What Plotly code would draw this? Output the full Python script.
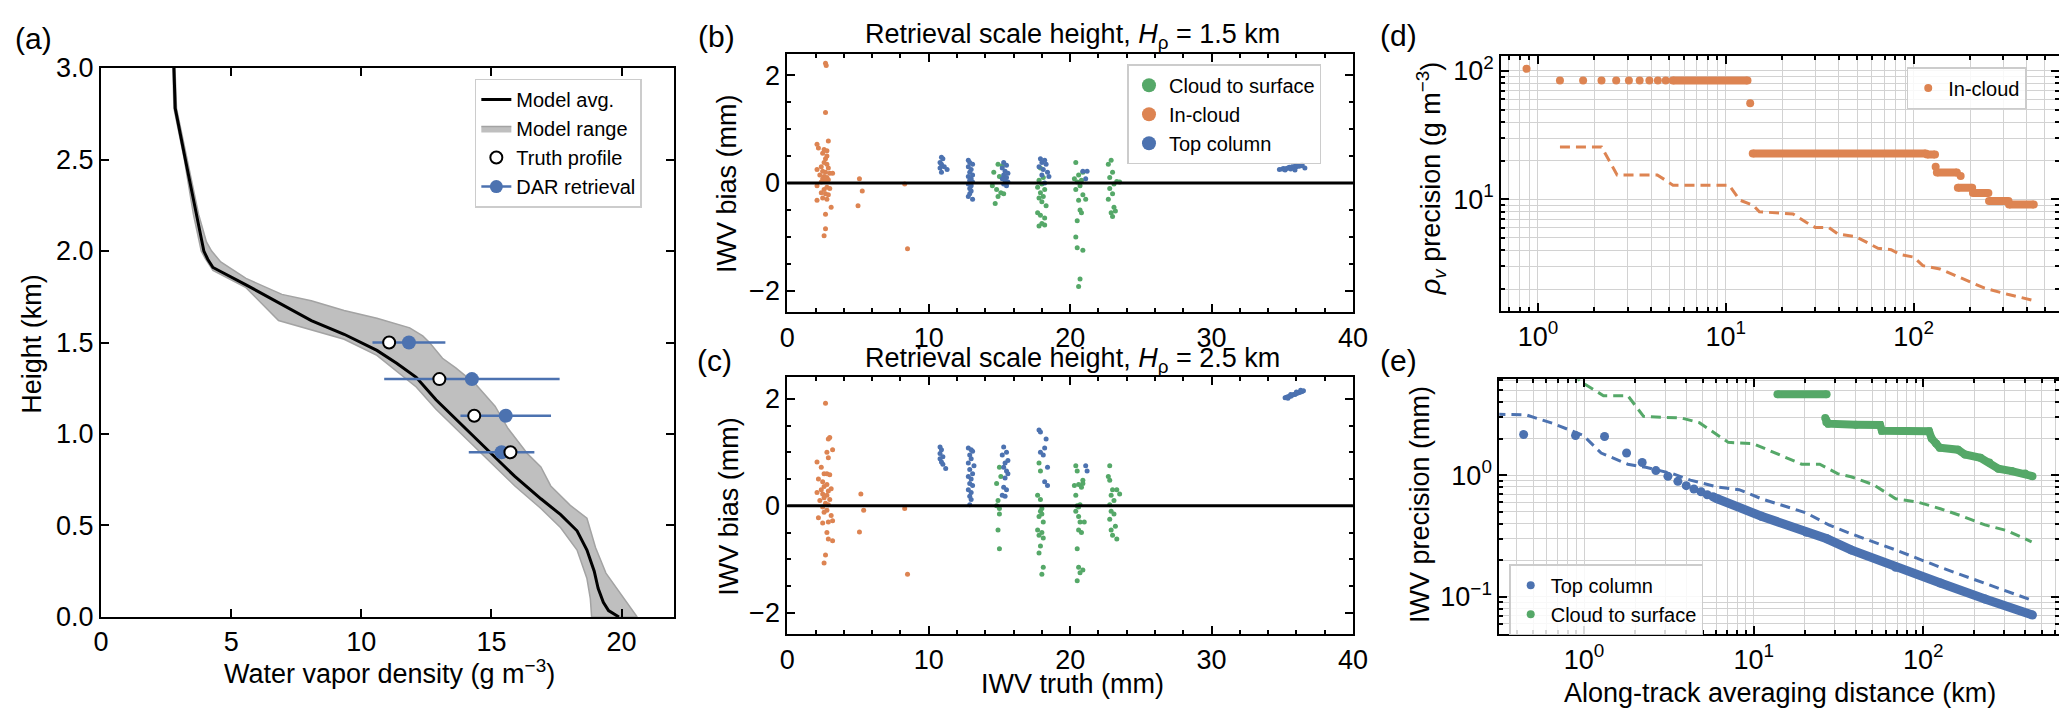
import plotly.graph_objects as go

W, H = 2067, 715
FONT = "Liberation Sans, Arial, sans-serif"
BLUE = "#4c72b0"
ORANGE = "#dd8452"
GREEN = "#55a868"
GRID = "#d2d2d2"

# ---------------- panel (a): water vapour profile ----------------
avg_height = [3.0, 2.78, 2.5, 2.2, 2.0, 1.955, 1.91, 1.815, 1.72, 1.62, 1.545, 1.457,
              1.387, 1.31, 1.187, 1.047, 0.907, 0.768, 0.646, 0.559, 0.471, 0.366,
              0.25, 0.157, 0.08, 0.035, 0.0]
avg_density = [2.8, 2.85, 3.24, 3.67, 3.95, 4.1, 4.3, 5.57, 6.82, 8.08, 9.34, 10.6,
               11.36, 12.11, 12.87, 13.87, 14.88, 15.9, 16.9, 17.66, 18.29, 18.67,
               18.95, 19.1, 19.3, 19.5, 19.9]

range_lo_height = [3.0, 2.78, 2.5, 2.2, 2.0, 1.96, 1.894, 1.8, 1.62, 1.57, 1.518, 1.43,
                   1.344, 1.257, 1.135, 0.995, 0.855, 0.716, 0.593, 0.488, 0.366, 0.21,
                   0.1, 0.0]
range_lo_density = [2.76, 2.8, 3.2, 3.55, 3.85, 4.0, 4.3, 5.57, 6.82, 8.08, 9.34, 10.6,
                    11.36, 12.11, 12.87, 13.87, 14.88, 15.9, 16.9, 17.66, 18.29, 18.67,
                    18.8, 18.85]
range_hi_height = [3.0, 2.78, 2.5, 2.2, 2.05, 2.0, 1.94, 1.85, 1.763, 1.728, 1.675, 1.632,
                   1.58, 1.536, 1.5, 1.414, 1.361, 1.274, 1.152, 1.03, 0.89, 0.82, 0.716,
                   0.61, 0.54, 0.38, 0.24, 0.157, 0.05, 0.0]
range_hi_density = [2.84, 2.9, 3.3, 3.75, 4.05, 4.25, 4.6, 5.57, 6.95, 8.08, 9.34, 10.6,
                    11.86, 12.36, 12.62, 13.12, 13.63, 14.38, 15.14, 15.64, 16.4, 16.9,
                    17.28, 18.03, 18.67, 19.0, 19.4, 19.8, 20.35, 20.6]

truth_height = [1.5, 1.3, 1.1, 0.9]
truth_density = [11.07, 13.0, 14.34, 15.73]
dar_height = [1.5, 1.3, 1.1, 0.9]
dar_density = [11.83, 14.25, 15.55, 15.39]
dar_error = [1.4, 3.37, 1.74, 1.26]

# ---------------- panel (b): H_rho = 1.5 km, (IWV truth, IWV bias) ----------------
b_cloud_surface = [
    (14.9, 0.35), (15.2, 0.32), (14.6, 0.2), (15.0, 0.12), (14.5, -0.05), (14.8, -0.12),
    (15.1, -0.18), (14.9, -0.25), (15.3, -0.2), (14.7, -0.38),
    (17.9, 0.28), (18.1, 0.1), (17.8, 0.05), (18.0, -0.02), (17.7, -0.08), (18.2, -0.12),
    (17.9, -0.18), (18.1, -0.25), (17.8, -0.28), (18.0, -0.35), (18.3, -0.42), (17.7, -0.55),
    (17.9, -0.6), (18.2, -0.65), (18.0, -0.75), (17.8, -0.8), (18.2, -0.78),
    (20.4, 0.38), (20.9, 0.2), (20.6, 0.15), (20.3, 0.08), (20.8, 0.05), (20.5, 0.02),
    (20.7, -0.05), (20.4, -0.12), (20.9, -0.22), (20.6, -0.32), (21.1, -0.3), (20.7, -0.5),
    (20.8, -0.55), (20.5, -0.7), (20.4, -1.0), (20.5, -1.2), (20.9, -1.25), (20.7, -1.78),
    (20.6, -1.92),
    (22.9, 0.42), (22.7, 0.35), (23.0, 0.2), (22.8, 0.1), (23.3, 0.03), (23.5, 0.02),
    (23.1, -0.02), (22.8, -0.1), (23.0, -0.2), (22.7, -0.3), (23.1, -0.45), (23.2, -0.52),
    (22.9, -0.55), (23.0, -0.62),
]
b_in_cloud = [
    (2.7, 2.22), (2.75, 2.18), (2.7, 1.31), (2.9, 0.78), (2.1, 0.72), (2.2, 0.65), (2.6, 0.62),
    (2.8, 0.6), (2.5, 0.55), (2.8, 0.5), (2.7, 0.45), (2.6, 0.38), (2.8, 0.35), (2.4, 0.3),
    (2.9, 0.28), (2.1, 0.25), (2.5, 0.22), (2.7, 0.2), (3.0, 0.18), (3.2, 0.18), (2.3, 0.15),
    (2.6, 0.12), (2.8, 0.1), (2.5, 0.08), (2.9, 0.06), (2.6, 0.05), (2.7, 0.03), (2.4, 0.02),
    (2.1, -0.05), (2.8, -0.08), (2.6, -0.12), (3.0, -0.1), (2.4, -0.18), (2.7, -0.2),
    (2.9, -0.22), (2.5, -0.28), (2.1, -0.32), (2.8, -0.3), (3.1, -0.45), (2.7, -0.58),
    (2.7, -0.85), (2.6, -0.98),
    (5.1, 0.08), (5.3, -0.15), (5.0, -0.42), (8.3, -0.02), (8.5, -1.22),
]
b_top_column = [
    (10.9, 0.48), (11.0, 0.45), (10.8, 0.38), (10.9, 0.35), (11.1, 0.3), (10.8, 0.28),
    (11.3, 0.25), (10.9, 0.2),
    (12.8, 0.42), (12.9, 0.38), (13.1, 0.35), (12.8, 0.3), (13.0, 0.25), (12.9, 0.2),
    (13.1, 0.15), (12.8, 0.12), (13.0, 0.08), (12.9, 0.05), (13.1, 0.02), (12.8, -0.02),
    (13.0, -0.05), (12.9, -0.1), (13.0, -0.15), (12.8, -0.25), (13.1, -0.3), (12.9, -0.2),
    (15.3, 0.38), (15.5, 0.33), (15.2, 0.28), (15.4, 0.22), (15.6, 0.18), (15.3, 0.15),
    (15.5, 0.1), (15.2, 0.08), (15.4, 0.05), (15.6, 0.02), (15.3, -0.02), (15.5, -0.05),
    (17.9, 0.45), (18.2, 0.42), (18.0, 0.38), (18.3, 0.35), (17.8, 0.3), (18.1, 0.25),
    (18.4, 0.2), (18.0, 0.15), (18.5, 0.12), (18.2, 0.0),
    (20.9, 0.22), (21.2, 0.22), (21.1, 0.08),
    (34.8, 0.25), (35.0, 0.26), (35.1, 0.27), (35.2, 0.24), (35.3, 0.27), (35.4, 0.28),
    (35.5, 0.29), (35.6, 0.28), (35.6, 0.26), (35.7, 0.30), (35.8, 0.29), (35.9, 0.31),
    (35.9, 0.24), (36.0, 0.30), (36.0, 0.33), (36.1, 0.32), (36.2, 0.31), (36.3, 0.33),
    (36.4, 0.32), (36.4, 0.34), (36.6, 0.28),
]

# ---------------- panel (c): H_rho = 2.5 km ----------------
c_cloud_surface = [
    (15.0, 0.72), (15.1, 0.55), (14.8, 0.42), (14.9, 0.1), (15.0, -0.05), (14.8, 0.0),
    (15.0, -0.15), (14.9, -0.45), (15.0, -0.8),
    (17.8, 0.8), (17.9, 0.65), (17.7, 0.2), (17.9, 0.12), (18.0, -0.05), (17.9, -0.1),
    (18.0, -0.15), (17.8, -0.2), (18.1, -0.3), (17.7, -0.45), (18.0, -0.5), (17.8, -0.55),
    (18.1, -0.6), (17.9, -0.75), (17.8, -0.88), (18.1, -1.15), (18.0, -1.28),
    (20.4, 0.75), (20.5, 0.65), (20.9, 0.48), (20.6, 0.4), (20.3, 0.38), (20.8, 0.35),
    (20.4, 0.2), (20.9, 0.42), (20.5, 0.0), (20.7, 0.02), (20.6, -0.02), (20.4, -0.1),
    (20.6, -0.2), (20.7, -0.3), (21.0, -0.3), (20.6, -0.45), (20.8, -0.5), (20.5, -0.8),
    (20.6, -1.15), (20.9, -1.2), (20.7, -1.25), (20.5, -1.4),
    (22.8, 0.75), (22.7, 0.55), (22.8, 0.48), (23.0, 0.3), (23.3, 0.3), (23.5, 0.22),
    (22.9, 0.2), (23.1, 0.1), (22.8, 0.02), (22.9, -0.1), (23.1, -0.15), (22.8, -0.25),
    (23.2, -0.38), (22.9, -0.45), (23.0, -0.55), (23.3, -0.62),
]
c_in_cloud = [
    (2.7, 1.92), (3.0, 1.28), (2.9, 1.25), (3.2, 1.05), (2.8, 1.0), (2.9, 0.9), (2.1, 0.82),
    (2.4, 0.72), (2.6, 0.6), (2.8, 0.6), (3.0, 0.58), (2.2, 0.5), (2.5, 0.45), (2.8, 0.4),
    (2.6, 0.36), (3.1, 0.32), (2.4, 0.3), (2.9, 0.28), (2.1, 0.25), (2.5, 0.22), (2.8, 0.2),
    (2.6, 0.15), (3.0, 0.12), (2.3, 0.1), (2.7, 0.05), (2.9, 0.02), (2.5, -0.02),
    (2.8, -0.08), (2.6, -0.12), (3.1, -0.18), (2.2, -0.22), (2.9, -0.3), (2.5, -0.32),
    (3.2, -0.28), (2.8, -0.5), (2.9, -0.62), (3.2, -0.65), (2.7, -0.92), (2.6, -1.07),
    (5.2, 0.22), (5.4, -0.08), (5.1, -0.49), (8.3, -0.05), (8.5, -1.28),
]
c_top_column = [
    (10.8, 1.1), (10.9, 1.05), (10.8, 0.98), (11.0, 0.92), (10.8, 0.88), (10.9, 0.82),
    (11.0, 0.78), (11.2, 0.7),
    (12.8, 1.08), (13.0, 1.05), (13.1, 1.02), (12.9, 0.95), (13.0, 0.88), (12.8, 0.8),
    (13.2, 0.75), (12.9, 0.68), (13.1, 0.6), (12.8, 0.55), (13.0, 0.5), (12.9, 0.42),
    (13.1, 0.38), (12.8, 0.3), (13.0, 0.25), (12.9, 0.18), (13.0, 0.12), (12.9, 0.02),
    (15.3, 1.1), (15.5, 1.0), (15.2, 0.95), (15.6, 0.85), (15.4, 0.8), (15.3, 0.72),
    (15.5, 0.65), (15.6, 0.6), (15.4, 0.52), (15.3, 0.35), (15.5, 0.3), (15.2, 0.2),
    (15.4, 0.18),
    (17.8, 1.42), (17.9, 1.38), (18.3, 1.25), (17.9, 1.0), (18.1, 0.95), (18.2, 1.08),
    (18.4, 0.72), (18.2, 0.45), (18.4, 0.38),
    (21.1, 0.75), (21.2, 0.65),
    (35.2, 2.02), (35.3, 2.03), (35.4, 2.04), (35.5, 2.05), (35.6, 2.05), (35.7, 2.07),
    (35.8, 2.08), (35.9, 2.08), (36.0, 2.10), (36.1, 2.11), (36.2, 2.12), (36.3, 2.13),
    (36.4, 2.14), (36.5, 2.15), (35.6, 2.08), (36.0, 2.13), (36.3, 2.16), (35.4, 2.01),
]

# ---------------- panel (d): rho_v precision vs averaging distance ----------------
d_dot_dist = [0.87, 1.31, 1.74, 2.18, 2.61, 3.05, 3.48, 3.92, 4.35, 4.79, 13.49, 131, 178]
d_dot_prec = [104, 84.2, 84.2, 84.2, 84.2, 84.2, 84.2, 84.2, 84.2, 84.2, 56, 17.9, 15.2]
d_run_start = [5.22, 13.92, 118, 133, 172, 207, 252, 322]
d_run_end = [13.05, 116, 130, 170, 205, 250, 320, 436]
d_run_prec = [84.2, 22.8, 22.3, 16.2, 12.3, 11.2, 9.7, 9.1]
d_model_dist = [1.31, 2.18, 2.64, 4.32, 5.24, 10.4, 11.9, 14.0, 15.1, 22.8, 26.9, 30.0,
                35.4, 39.5, 49.1, 64.6, 75.9, 85, 100, 112, 138, 182, 239, 316, 427]
d_model_prec = [25.6, 25.6, 15.5, 15.5, 12.9, 12.9, 9.84, 9.0, 8.0, 7.7, 6.6, 6.03,
                6.03, 5.37, 5.13, 4.16, 4.05, 3.71, 3.55, 3.04, 2.87, 2.42, 2.03, 1.82, 1.64]

# ---------------- panel (e): IWV precision vs averaging distance ----------------
e_top_dot_dist = [0.44, 0.89, 1.32, 1.78, 2.2, 2.65, 3.12, 3.57, 4.0, 4.44, 4.89, 5.32]
e_top_dot_prec = [2.16, 2.12, 2.08, 1.52, 1.27, 1.09, 0.98, 0.89, 0.82, 0.77, 0.73, 0.69]
e_top_run_dist = [5.75, 6.1, 11.1, 20.4, 27, 37.5, 68.7, 126, 231, 440]
e_top_run_prec = [0.665, 0.64, 0.46, 0.34, 0.30, 0.243, 0.175, 0.13, 0.096, 0.071]
e_top_model_dist = [0.3, 0.455, 0.65, 0.99, 1.26, 1.81, 2.31, 3.32, 4.23, 6.1, 8.2, 11.1,
                    20.4, 27.7, 37.5, 68.7, 126, 231, 435]
e_top_model_prec = [3.17, 3.13, 2.67, 2.12, 1.52, 1.23, 1.16, 1.03, 0.91, 0.80, 0.76, 0.64,
                    0.49, 0.39, 0.33, 0.243, 0.175, 0.13, 0.094]
e_cs_top_dist = [13.8, 26.9]
e_cs_top_prec = [4.63, 4.63]
e_cs_run_dist = [26.4, 26.8, 27.5, 40, 55.6, 57, 108, 112, 119, 125, 160, 176, 217, 245,
                 277, 332, 398, 440]
e_cs_run_prec = [2.95, 2.72, 2.65, 2.6, 2.58, 2.32, 2.3, 2.0, 1.82, 1.68, 1.62, 1.48, 1.39,
                 1.27, 1.13, 1.08, 1.03, 0.98]
e_cs_model_dist = [0.85, 0.99, 1.3, 1.81, 2.24, 3.75, 4.78, 7.08, 9.9, 14.2, 19.2, 24.5,
                   31.2, 37.5, 50.7, 68.7, 93, 126, 170, 231, 312, 435]
e_cs_model_prec = [6.8, 5.7, 4.5, 4.5, 3.04, 2.95, 2.7, 1.86, 1.82, 1.48, 1.23, 1.23, 1.03,
                   0.97, 0.836, 0.64, 0.60, 0.53, 0.46, 0.39, 0.35, 0.283]


def fx(p):
    return p / W


def fy(p):
    return 1 - p / H


def unzip(points):
    return [p[0] for p in points], [p[1] for p in points]


def runs(starts, ends, values):
    xs, ys = [], []
    for s, e, v in zip(starts, ends, values):
        xs += [s, e, None]
        ys += [v, v, None]
    return xs, ys


fig = go.Figure()

# (a)
fig.add_trace(go.Scatter(
    x=range_lo_density + range_hi_density[::-1], y=range_lo_height + range_hi_height[::-1],
    fill="toself", fillcolor="#bfbfbf", line=dict(color="#a3a3a3", width=1.5),
    mode="lines", name="Model range", legend="legend", legendrank=2, xaxis="x", yaxis="y"))
fig.add_trace(go.Scatter(
    x=avg_density, y=avg_height, mode="lines", line=dict(color="black", width=3),
    name="Model avg.", legend="legend", legendrank=1, xaxis="x", yaxis="y"))
fig.add_trace(go.Scatter(
    x=dar_density, y=dar_height, mode="markers",
    marker=dict(color=BLUE, size=14),
    error_x=dict(type="data", array=dar_error, color=BLUE, thickness=2.5, width=0),
    showlegend=False, xaxis="x", yaxis="y"))
fig.add_trace(go.Scatter(
    x=truth_density, y=truth_height, mode="markers",
    marker=dict(color="white", size=12, line=dict(color="black", width=2)),
    name="Truth profile", legend="legend", legendrank=3, xaxis="x", yaxis="y"))
fig.add_trace(go.Scatter(
    x=[None], y=[None], mode="lines+markers", marker=dict(color=BLUE, size=13),
    line=dict(color=BLUE, width=2.5), name="DAR retrieval", legend="legend", legendrank=4,
    xaxis="x", yaxis="y"))

# (b) and (c)
for n, (cs, ic, tc) in ((2, (b_cloud_surface, b_in_cloud, b_top_column)),
                        (3, (c_cloud_surface, c_in_cloud, c_top_column))):
    for pts, col in ((cs, GREEN), (ic, ORANGE), (tc, BLUE)):
        xs, ys = unzip(pts)
        fig.add_trace(go.Scatter(
            x=xs, y=ys, mode="markers", marker=dict(color=col, size=5),
            showlegend=False, xaxis=f"x{n}", yaxis=f"y{n}"))
for name, col in (("Cloud to surface", GREEN), ("In-cloud", ORANGE), ("Top column", BLUE)):
    fig.add_trace(go.Scatter(
        x=[None], y=[None], mode="markers", marker=dict(color=col, size=14), name=name,
        legend="legend2", xaxis="x2", yaxis="y2"))

# (d)
rx, ry = runs(d_run_start, d_run_end, d_run_prec)
fig.add_trace(go.Scatter(
    x=d_model_dist, y=d_model_prec, mode="lines",
    line=dict(color=ORANGE, width=3, dash="10px,6px"), showlegend=False,
    xaxis="x4", yaxis="y4"))
fig.add_trace(go.Scatter(
    x=rx, y=ry, mode="lines+markers", line=dict(color=ORANGE, width=8),
    marker=dict(color=ORANGE, size=8), showlegend=False, xaxis="x4", yaxis="y4"))
fig.add_trace(go.Scatter(
    x=d_dot_dist, y=d_dot_prec, mode="markers", marker=dict(color=ORANGE, size=8),
    showlegend=False, xaxis="x4", yaxis="y4"))
fig.add_trace(go.Scatter(
    x=[None], y=[None], mode="markers", marker=dict(color=ORANGE, size=8), name="In-cloud",
    legend="legend3", xaxis="x4", yaxis="y4"))

# (e)
fig.add_trace(go.Scatter(
    x=e_top_model_dist, y=e_top_model_prec, mode="lines",
    line=dict(color=BLUE, width=3, dash="10px,6px"), showlegend=False,
    xaxis="x5", yaxis="y5"))
fig.add_trace(go.Scatter(
    x=e_cs_model_dist, y=e_cs_model_prec, mode="lines",
    line=dict(color=GREEN, width=3, dash="10px,6px"), showlegend=False,
    xaxis="x5", yaxis="y5"))
fig.add_trace(go.Scatter(
    x=e_top_run_dist, y=e_top_run_prec, mode="lines+markers", line=dict(color=BLUE, width=9),
    marker=dict(color=BLUE, size=9), showlegend=False, xaxis="x5", yaxis="y5"))
fig.add_trace(go.Scatter(
    x=e_top_dot_dist, y=e_top_dot_prec, mode="markers", marker=dict(color=BLUE, size=9),
    showlegend=False, xaxis="x5", yaxis="y5"))
for xs, ys in ((e_cs_top_dist, e_cs_top_prec), (e_cs_run_dist, e_cs_run_prec)):
    fig.add_trace(go.Scatter(
        x=xs, y=ys, mode="lines+markers", line=dict(color=GREEN, width=8),
        marker=dict(color=GREEN, size=8), showlegend=False, xaxis="x5", yaxis="y5"))
for name, col in (("Top column", BLUE), ("Cloud to surface", GREEN)):
    fig.add_trace(go.Scatter(
        x=[None], y=[None], mode="markers", marker=dict(color=col, size=8), name=name,
        legend="legend4", xaxis="x5", yaxis="y5"))


def axis(domain, anchor, **kw):
    d = dict(domain=domain, anchor=anchor, showline=True, linecolor="black", linewidth=2,
             mirror="allticks", ticks="inside", ticklen=8, tickwidth=1.5, tickcolor="black",
             showgrid=False, zeroline=False, tickfont=dict(size=27, color="black"))
    d.update(kw)
    return d


def log_minor(decades, lo, hi):
    vals = [m * 10 ** k for k in decades for m in range(2, 10)]
    return [v for v in vals if lo <= v <= hi]


def log_axis(domain, anchor, rng, majors, labels, minors):
    return axis(domain, anchor, type="log", range=rng, tickvals=majors, ticktext=labels,
                showgrid=True, gridcolor=GRID, gridwidth=1.3,
                minor=dict(tickvals=minors, ticks="inside", ticklen=4, tickcolor="black",
                           showgrid=True, gridcolor=GRID, gridwidth=1.3))


sup = {1: "10<sup>0</sup>", 10: "10<sup>1</sup>", 100: "10<sup>2</sup>", 0.1: "10<sup>−1</sup>"}

xa = [fx(86), fx(665)]
ya = [fy(620), fy(47)]
xb = [fx(780), fx(1352)]
yb = [fy(302), fy(32)]
yc = [fy(638), fy(370)]
xd = [fx(1502), fx(2066)]
yd = [fy(301), fy(34)]
xe = [fx(1500), fx(2066)]
ye = [fy(638), fy(372)]

legend_style = dict(bgcolor="rgba(255,255,255,0.85)", bordercolor="#cccccc", borderwidth=1.5,
                    font=dict(size=20, color="black"), xanchor="left", yanchor="top",
                    tracegroupgap=0)

fig.update_layout(
    width=W, height=H, margin=dict(l=0, r=0, t=0, b=0), autosize=False,
    paper_bgcolor="white", plot_bgcolor="white",
    font=dict(family=FONT, size=27, color="black"),
    xaxis=axis(xa, "y", range=[0, 22], tickvals=[0, 5, 10, 15, 20]),
    yaxis=axis(ya, "x", range=[0, 3], dtick=0.5, tick0=0, tickformat=".1f"),
    xaxis2=axis(xb, "y2", range=[0, 40], dtick=10, tick0=0,
                minor=dict(dtick=2, ticks="inside", ticklen=4, tickcolor="black")),
    yaxis2=axis(yb, "x2", range=[-2.4, 2.4], tickvals=[-2, 0, 2],
                minor=dict(dtick=0.5, tick0=0, ticks="inside", ticklen=4, tickcolor="black")),
    xaxis3=axis(xb, "y3", range=[0, 40], dtick=10, tick0=0,
                minor=dict(dtick=2, ticks="inside", ticklen=4, tickcolor="black")),
    yaxis3=axis(yc, "x3", range=[-2.4, 2.4], tickvals=[-2, 0, 2],
                minor=dict(dtick=0.5, tick0=0, ticks="inside", ticklen=4, tickcolor="black")),
    xaxis4=log_axis(xd, "y4", [-0.195, 2.774], [1, 10, 100], [sup[1], sup[10], sup[100]],
                    log_minor([-1, 0, 1, 2], 0.64, 590)),
    yaxis4=log_axis(yd, "x4", [0.127, 2.12], [10, 100], [sup[10], sup[100]],
                    log_minor([0, 1, 2], 1.3, 132)),
    xaxis5=log_axis(xe, "y5", [-0.5, 2.8], [1, 10, 100], [sup[1], sup[10], sup[100]],
                    log_minor([-1, 0, 1, 2], 0.32, 630)),
    yaxis5=log_axis(ye, "x5", [-1.307, 0.787], [0.1, 1], [sup[0.1], sup[1]],
                    log_minor([-2, -1, 0], 0.049, 6.1)),
    legend=dict(x=fx(464), y=fy(58), **legend_style),
    legend2=dict(x=fx(1124), y=fy(43), **legend_style),
    legend3=dict(x=fx(1912), y=fy(46), **legend_style),
    legend4=dict(x=fx(1510), y=fy(565), **legend_style),
    shapes=[
        dict(type="line", xref="x2 domain", yref="y2", x0=0, x1=1, y0=0, y1=0,
             line=dict(color="black", width=3)),
        dict(type="line", xref="x3 domain", yref="y3", x0=0, x1=1, y0=0, y1=0,
             line=dict(color="black", width=3)),
    ],
)


def note(text, x, y, size=27, angle=0):
    return dict(text=text, x=fx(x), y=fy(y), xref="paper", yref="paper", showarrow=False,
                font=dict(size=size, color="black"), textangle=angle,
                xanchor="center", yanchor="middle")


fig.update_layout(annotations=[
    note("(a)", 18, 16, size=30),
    note("(b)", 708, 14, size=30),
    note("(c)", 706, 352, size=30),
    note("(d)", 1398, 13, size=30),
    note("(e)", 1398, 352, size=30),
    note("Retrieval scale height, <i>H</i><sub>ρ</sub> = 1.5 km", 1068, 14),
    note("Retrieval scale height, <i>H</i><sub>ρ</sub> = 2.5 km", 1068, 352),
    note("Height (km)", 16, 335, angle=-90),
    note("IWV bias (mm)", 719, 167, angle=-90),
    note("IWV bias (mm)", 721, 504, angle=-90),
    note("<i>ρ</i><sub><i>v</i></sub> precision (g m<sup>−3</sup>)", 1431, 162, angle=-90),
    note("IWV precision (mm)", 1420, 503, angle=-90),
    note("Water vapor density (g m<sup>−3</sup>)", 378, 677),
    note("IWV truth (mm)", 1068, 690),
    note("Along-track averaging distance (km)", 1784, 699),
])

fig.write_html("out.html")
